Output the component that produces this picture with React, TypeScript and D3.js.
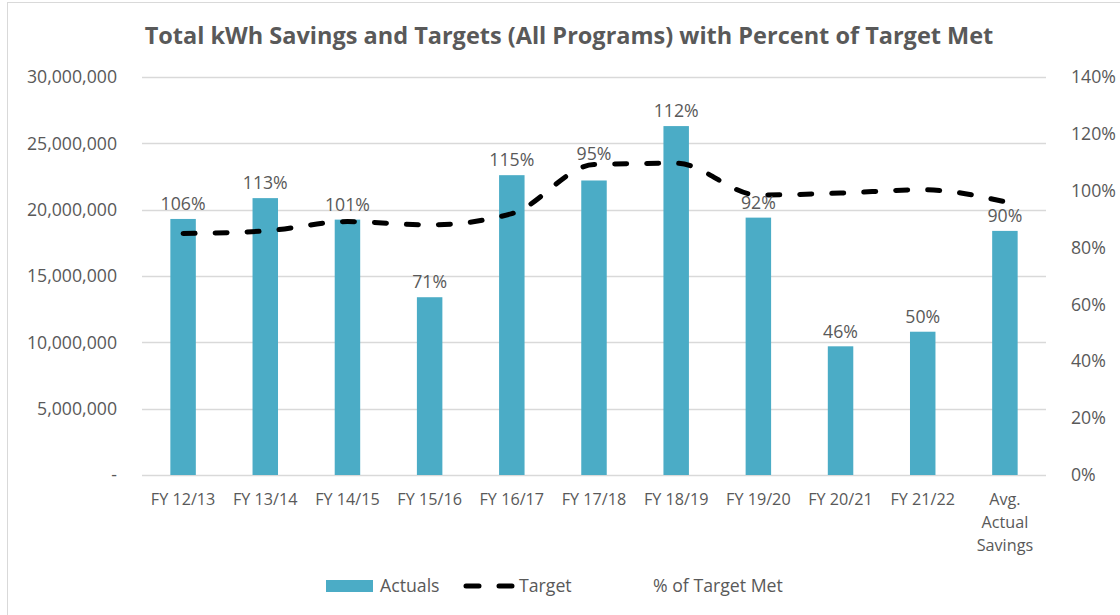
import React from "react";
import * as d3 from "d3";

const categories = ["FY 12/13", "FY 13/14", "FY 14/15", "FY 15/16", "FY 16/17", "FY 17/18", "FY 18/19", "FY 19/20", "FY 20/21", "FY 21/22", "Avg. Actual Savings"];
const actuals = [19300000, 20870000, 19250000, 13400000, 22600000, 22200000, 26300000, 19400000, 9700000, 10800000, 18400000];
const targets = [18200000, 18400000, 19100000, 18850000, 19700000, 23400000, 23500000, 21100000, 21250000, 21500000, 20600000];
const pctMet = [1.06, 1.13, 1.01, 0.71, 1.15, 0.95, 1.12, 0.92, 0.46, 0.5, 0.9];
const leftTicks = [0, 5000000, 10000000, 15000000, 20000000, 25000000, 30000000];
const rightTicks = [0, 0.2, 0.4, 0.6, 0.8, 1.0, 1.2, 1.4];
const categoryLines: Record<string, string[]> = { "Avg. Actual Savings": ["Avg.", "Actual", "Savings"] };

const W = 1120;
const H = 615;
const FONT = "'Open Sans', sans-serif";
const GRAY = "#595959";
const GRID = "#d9d9d9";
const BAR = "#4bacc6";

export default function App() {
  const x = d3.scaleBand<string>().domain(categories).range([142, 1046]).paddingInner(0.69).paddingOuter(0.345);
  const yL = d3.scaleLinear().domain([0, 30000000]).range([475, 77]);
  const yR = d3.scaleLinear().domain([0, 1.4]).range([475, 77]);
  const cx = (c: string) => (x(c) as number) + x.bandwidth() / 2;
  const fmt = d3.format(",");
  const line = d3
    .line<number>()
    .x((_, i) => cx(categories[i]))
    .y((d) => yL(d))
    .curve(d3.curveMonotoneX);

  const labelY = (i: number) => {
    const above = yL(actuals[i]) - 15;
    const ty = yL(targets[i]);
    return Math.abs(above - ty) < 6 ? ty - 11 : above;
  };

  return (
    <svg width={W} height={H} style={{ position: "absolute", left: 0, top: 0, background: "#fff" }} fontFamily={FONT}>
      <rect x={7.5} y={2.5} width={W} height={H} fill="#fff" stroke={GRID} strokeWidth={1} />
      <text x={569} y={44} textAnchor="middle" fontSize={23.5} fontWeight={700} fill={GRAY}>
        Total kWh Savings and Targets (All Programs) with Percent of Target Met
      </text>
      {leftTicks.map((t) => (
        <line key={"g" + t} x1={142} x2={1046} y1={Math.round(yL(t)) + 0.5} y2={Math.round(yL(t)) + 0.5} stroke={GRID} strokeWidth={1.3} />
      ))}
      {leftTicks.map((t) => (
        <text key={"l" + t} x={117} y={yL(t)} dy="0.35em" textAnchor="end" fontSize={17.7} fill={GRAY}>
          {t === 0 ? "-" : fmt(t)}
        </text>
      ))}
      {rightTicks.map((t) => (
        <text key={"r" + t} x={1071} y={yR(t)} dy="0.35em" textAnchor="start" fontSize={17.7} fill={GRAY}>
          {d3.format(".0%")(t)}
        </text>
      ))}
      {categories.map((c, i) => (
        <rect key={"b" + c} x={x(c)} y={yL(actuals[i])} width={x.bandwidth()} height={yL(0) - yL(actuals[i])} fill={BAR} />
      ))}
      <path d={line(targets) || ""} fill="none" stroke="#000" strokeWidth={5} strokeDasharray="12 20" strokeLinecap="round" />
      {categories.map((c, i) => (
        <text key={"p" + c} x={cx(c)} y={labelY(i)} dy="0.35em" textAnchor="middle" fontSize={17.7} fill={GRAY}>
          {d3.format(".0%")(pctMet[i])}
        </text>
      ))}
      {categories.map((c) => {
        const lines = categoryLines[c] || [c];
        return (
          <text key={"x" + c} x={cx(c)} y={499} textAnchor="middle" fontSize={16.2} fill={GRAY}>
            {lines.map((l, j) => (
              <tspan key={j} x={cx(c)} dy={j === 0 ? "0.35em" : 23}>
                {l}
              </tspan>
            ))}
          </text>
        );
      })}
      <g fontSize={17.7} fill={GRAY}>
        <rect x={326} y={580} width={47} height={12} fill={BAR} />
        <text x={380} y={586} dy="0.35em">Actuals</text>
        <line x1={466} x2={512} y1={586} y2={586} stroke="#000" strokeWidth={5} strokeDasharray="13 20" strokeLinecap="round" />
        <text x={519} y={586} dy="0.35em">Target</text>
        <text x={653} y={586} dy="0.35em">% of Target Met</text>
      </g>
    </svg>
  );
}
